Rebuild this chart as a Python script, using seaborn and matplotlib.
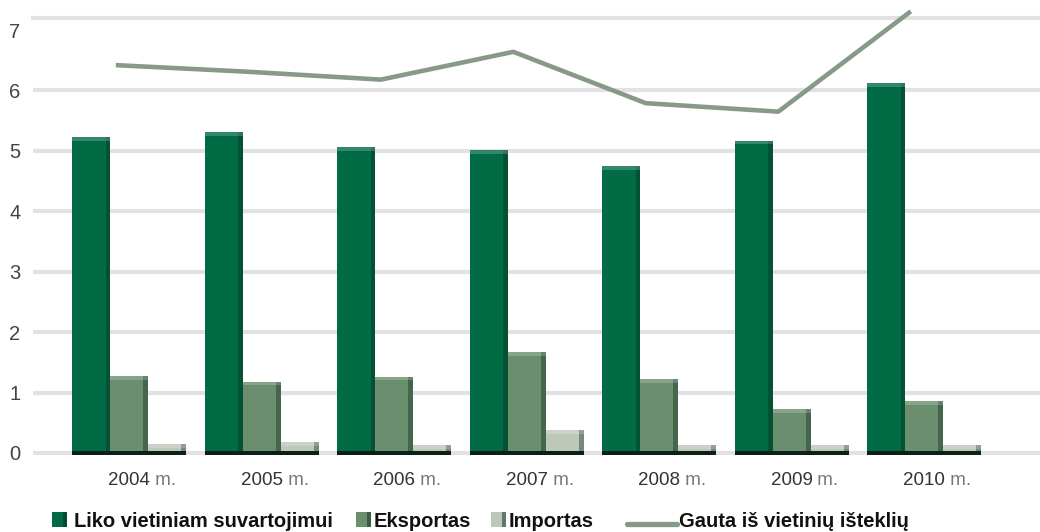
import numpy as np
import pandas as pd
import matplotlib
matplotlib.use("Agg")
import matplotlib.pyplot as plt
from matplotlib.patches import Rectangle
from matplotlib.lines import Line2D
import seaborn as sns

YEARS = ["2004", "2005", "2006", "2007", "2008", "2009", "2010"]
LIKO = [5.23, 5.31, 5.06, 5.01, 4.75, 5.17, 6.12]
EKSPORTAS = [1.27, 1.18, 1.26, 1.67, 1.22, 0.73, 0.86]
IMPORTAS = [0.15, 0.18, 0.13, 0.38, 0.13, 0.13, 0.13]
GAUTA = [6.42, 6.31, 6.18, 6.64, 5.79, 5.65, 7.31]

SERIES = ["Liko vietiniam suvartojimui", "Eksportas", "Importas"]
LINE_LABEL = "Gauta iš vietinių išteklių"

BAR_COLORS = ["#006b45", "#6a8e6e", "#bdc8bb"]
LINE_COLOR = "#879a88"
GRID_COLOR = "#e2e2e4"
FONT = ["Liberation Sans", "DejaVu Sans"]

sns.set_style("white")
plt.rcParams["font.family"] = FONT

df = pd.DataFrame({
    "year": YEARS * 3,
    "series": [SERIES[0]] * 7 + [SERIES[1]] * 7 + [SERIES[2]] * 7,
    "value": LIKO + EKSPORTAS + IMPORTAS,
})

fig = plt.figure(figsize=(10.4, 5.32), dpi=100)
ax = fig.add_axes([33 / 1040, (532 - 455.4) / 532, 1 - 33 / 1040, (455.4 - 18) / 532])

sns.barplot(data=df, x="year", y="value", hue="series", hue_order=SERIES,
            palette=BAR_COLORS, saturation=1, width=0.86, legend=False,
            linewidth=0, edgecolor="none", ax=ax)

# fake 3d shading on the bars
for bar in list(ax.patches):
    x, w, h = bar.get_x(), bar.get_width(), bar.get_height()
    ax.add_patch(Rectangle((x + w * 0.88, 0), w * 0.12, h, color="#0c2a1b", alpha=0.4, lw=0, zorder=3))
    ax.add_patch(Rectangle((x, h - 0.06), w, 0.06, color="white", alpha=0.2, lw=0, zorder=3))
    ax.add_patch(Rectangle((x, -0.035), w, 0.075, color="#0b2016", lw=0, zorder=3))

xs = np.arange(len(YEARS)) - 0.1
sns.lineplot(x=xs, y=GAUTA, color=LINE_COLOR, linewidth=3.3, ax=ax, zorder=4)
ax.lines[-1].set_solid_capstyle("butt")
ax.lines[-1].set_clip_on(False)

ax.set_xlim(-0.725, 6.875)
ax.set_ylim(-0.04, 7.2)
ax.set_yticks(range(8))
ax.grid(axis="y", color=GRID_COLOR, linewidth=3)
ax.grid(axis="x", visible=False)
ax.get_ygridlines()[7].set_visible(False)
ax.set_axisbelow(True)
for side in ["left", "right", "bottom"]:
    ax.spines[side].set_visible(False)
ax.spines["top"].set_color(GRID_COLOR)
ax.spines["top"].set_linewidth(3)
ax.set_xlabel("")
ax.set_ylabel("")
ax.tick_params(axis="y", length=0, pad=9, labelsize=14.5, labelcolor="#444444")
ax.tick_params(axis="x", length=0)
ax.set_xticks(range(len(YEARS)))
ax.set_xticklabels([])

for i, year in enumerate(YEARS):
    t = ax.annotate(year, xy=(i, 0), xycoords=("data", "axes fraction"),
                    xytext=(0, -18), textcoords="offset points",
                    ha="center", va="center", fontsize=13.5, color="#333333")
    ax.annotate(" m.", xy=(1, 0), xycoords=t, ha="left", va="bottom",
                fontsize=13.5, color="#777777")

# legend drawn by hand along the bottom
def px(x, y):
    return x / 1040, (532 - y) / 532

base = 527
sq = 15
for (x0, tx), label, color in zip([(52, 74), (356, 374), (491, 509)], SERIES, BAR_COLORS):
    fig.add_artist(Rectangle(px(x0, base), sq / 1040, sq / 532, color=color, lw=0,
                             transform=fig.transFigure))
    fig.add_artist(Rectangle(px(x0 + sq * 0.75, base), sq * 0.25 / 1040, sq / 532,
                             color="#0c2a1b", alpha=0.5, lw=0, transform=fig.transFigure))
    fig.text(*px(tx, base), label, fontsize=14.5, fontweight="bold", color="#111111",
             va="baseline", ha="left")

(lx0, ly), (lx1, _) = px(627, base - 3), px(677, base - 3)
fig.add_artist(Line2D([lx0, lx1], [ly, ly], color=LINE_COLOR, lw=3.8, transform=fig.transFigure))
fig.text(*px(679, base), LINE_LABEL, fontsize=14.5, fontweight="bold", color="#111111",
         va="baseline", ha="left")

fig.savefig("out.png", dpi=100)
